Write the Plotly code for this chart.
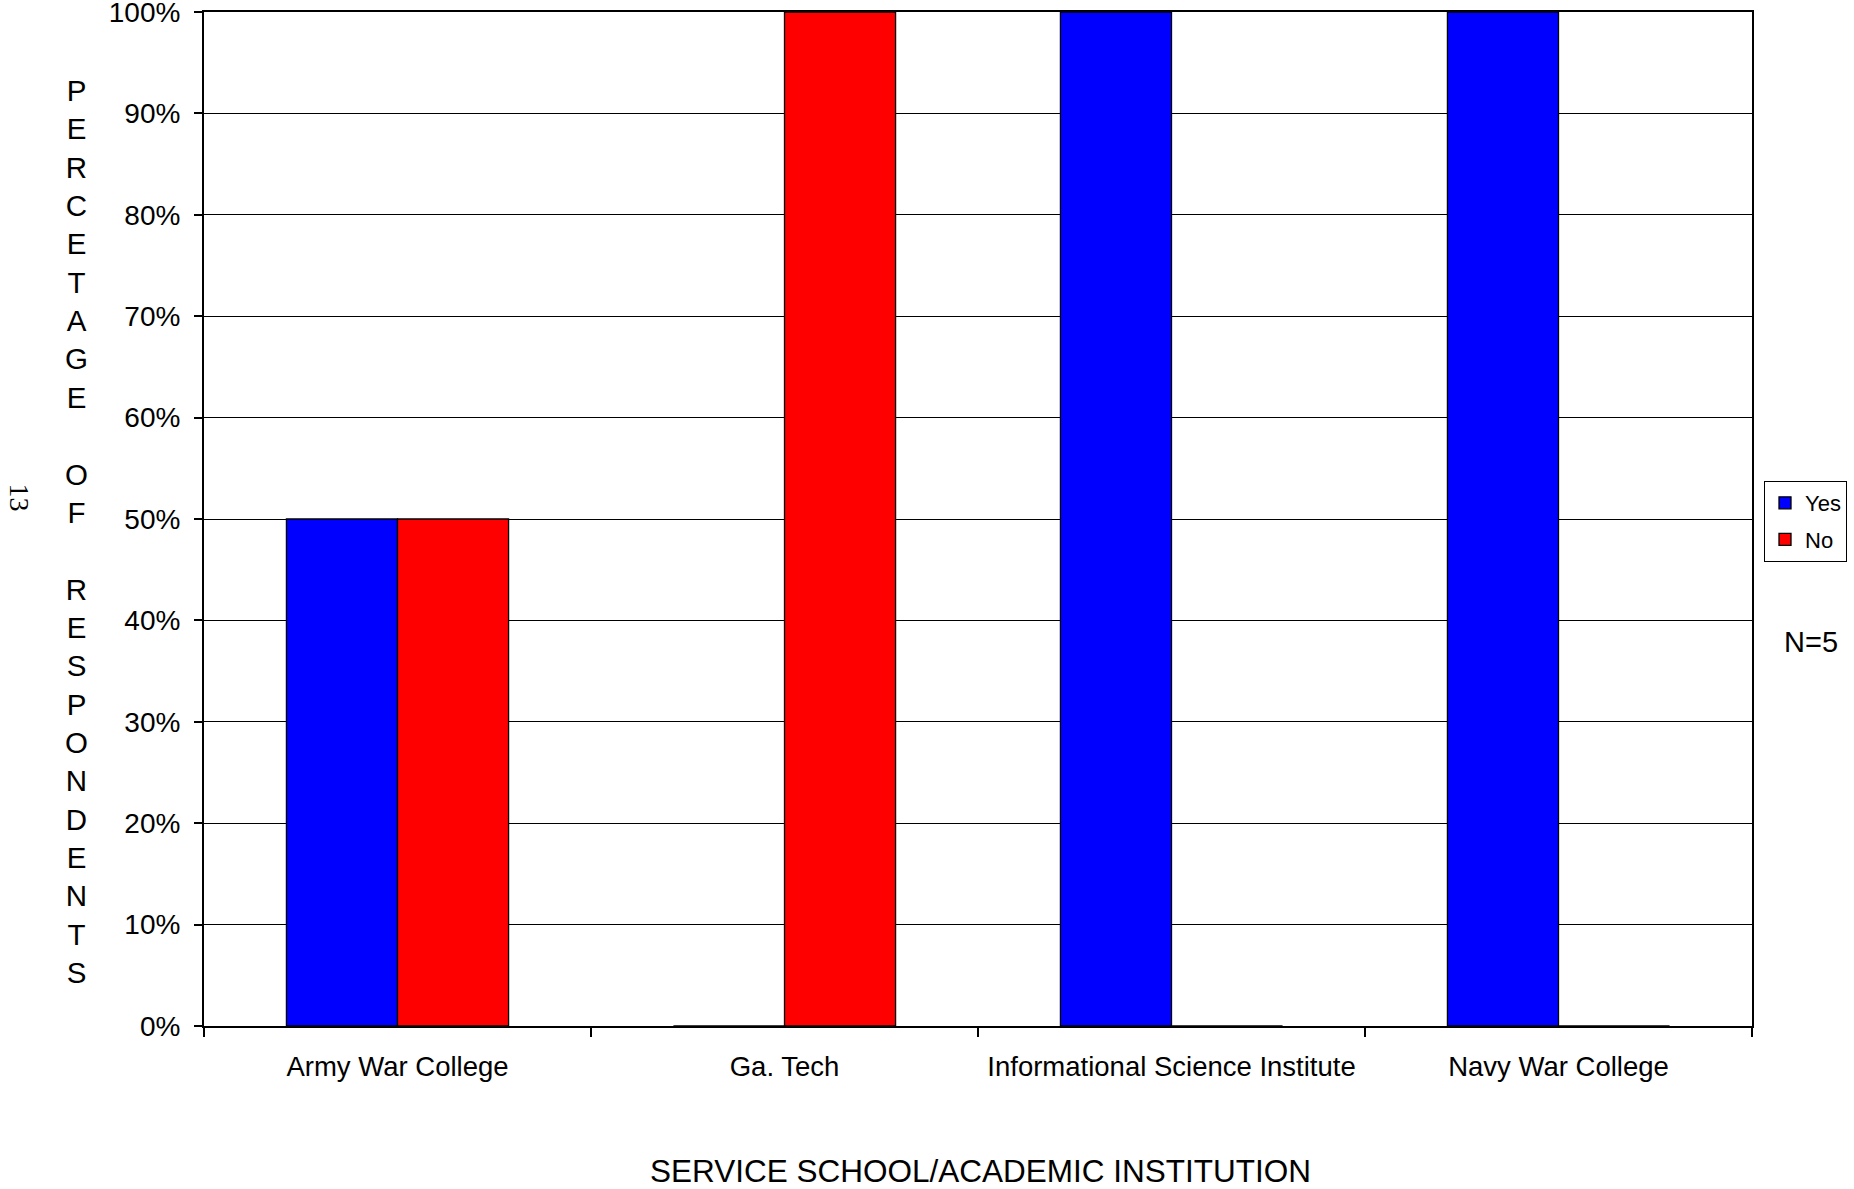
import plotly.graph_objects as go

categories = ["Army War College", "Ga. Tech", "Informational Science Institute", "Navy War College"]
yes_vals = [0.5, 0.0, 1.0, 1.0]
no_vals = [0.5, 1.0, 0.0, 0.0]
y_tick_vals = [0.0, 0.1, 0.2, 0.3, 0.4, 0.5, 0.6, 0.7, 0.8, 0.9, 1.0]
y_tick_text = ["0%", "10%", "20%", "30%", "40%", "50%", "60%", "70%", "80%", "90%", "100%"]
ylabel_text = "PERCETAGE OF RESPONDENTS"
xlabel_text = "SERVICE SCHOOL/ACADEMIC INSTITUTION"

FONT = "Liberation Sans, Arial, sans-serif"

fig = go.Figure()
fig.add_trace(go.Bar(name="Yes", x=categories, y=yes_vals, legendgroup="a",
                     marker=dict(color="#0000FF", line=dict(color="black", width=1.3))))
fig.add_trace(go.Bar(name="No", x=categories, y=no_vals, legendgroup="b",
                     marker=dict(color="#FF0000", line=dict(color="black", width=1.3))))

W, H = 1854, 1189
# target plot area in page pixels
PL, PR, PT, PB = 204, 1752, 12, 1026
L, T = PL, PT
R = W - PR
B = H - PB
pw = PR - PL
ph = PB - PT

def px(xp):
    return (xp - PL) / pw

def py(yp):
    return 1 - (yp - PT) / ph

letters = []
for ch in ylabel_text:
    letters.append(ch if ch != " " else "&nbsp;")
ytitle = "<br>".join(letters)

fig.update_layout(
    width=W, height=H,
    margin=dict(l=L, r=R, t=T, b=B, autoexpand=False),
    paper_bgcolor="white", plot_bgcolor="white",
    barmode="group", bargap=0.426, bargroupgap=0,
    font=dict(family=FONT, color="black"),
    showlegend=True,
    legend=dict(x=px(1764), y=py(481), xanchor="left", yanchor="top",
                bordercolor="black", borderwidth=1, font=dict(size=22, family=FONT),
                tracegroupgap=5, itemwidth=30, bgcolor="white"),
    xaxis=dict(type="category", showline=True, linecolor="black", linewidth=2, mirror=True,
               ticks="outside", tickson="boundaries", ticklen=9, tickwidth=1.5, tickcolor="black",
               ticklabelstandoff=15,
               tickfont=dict(size=27.5, family=FONT), showgrid=False, fixedrange=True),
    yaxis=dict(range=[0, 1], tickmode="array", tickvals=y_tick_vals, ticktext=y_tick_text,
               showline=True, linecolor="black",
               linewidth=2, mirror=True, ticks="outside", ticklen=8, tickwidth=1.5,
               tickcolor="black", ticklabelstandoff=8, ticklabeloverflow="allow",
               tickfont=dict(size=28, family=FONT), showgrid=True,
               gridcolor="black", gridwidth=1.2, zeroline=False, fixedrange=True),
)

fig.add_annotation(text=ytitle, xref="paper", yref="paper", x=px(76), y=py(531),
                   xanchor="center", yanchor="middle", showarrow=False,
                   font=dict(size=29.5, family=FONT))
fig.add_annotation(text=xlabel_text, xref="paper", yref="paper", x=px(980), y=py(1171),
                   xanchor="center", yanchor="middle", showarrow=False,
                   font=dict(size=31.5, family=FONT))
fig.add_annotation(text="N=5", xref="paper", yref="paper", x=px(1811), y=py(642),
                   xanchor="center", yanchor="middle", showarrow=False,
                   font=dict(size=29, family=FONT))
fig.add_annotation(text="13", xref="paper", yref="paper", x=px(19.5), y=py(497),
                   xanchor="center", yanchor="middle", showarrow=False, textangle=90,
                   font=dict(size=28, family="Liberation Serif, Times New Roman, serif"))

fig.write_html("out.html", config={"displayModeBar": False},
               post_script="document.body.style.margin='0';document.body.style.overflow='hidden';")
